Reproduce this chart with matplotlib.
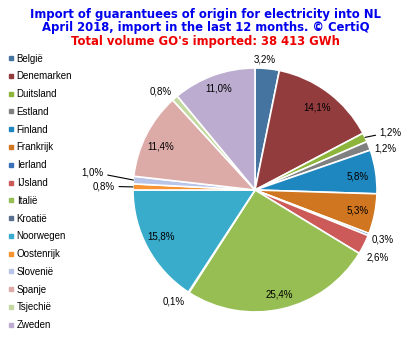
import numpy as np
import matplotlib
matplotlib.use('Agg')
import matplotlib.pyplot as plt
from matplotlib.lines import Line2D

# Aandeel per land in de geïmporteerde GO's (%)
landen = ['België', 'Denemarken', 'Duitsland', 'Estland', 'Finland', 'Frankrijk',
          'Ierland', 'IJsland', 'Italië', 'Kroatië', 'Noorwegen', 'Oostenrijk',
          'Slovenië', 'Spanje', 'Tsjechië', 'Zweden']
aandeel = [3.2, 14.1, 1.2, 1.2, 5.8, 5.3, 0.3, 2.6, 25.4, 0.1, 15.8, 0.8,
           1.0, 11.4, 0.8, 11.0]
kleuren = ['#4674A0', '#933C3E', '#8DB53B', '#808080', '#1F87BF', '#D17620',
           '#3A70B8', '#CC5A58', '#96BE52', '#5B6F8F', '#39ABCB', '#F79331',
           '#B8C4E8', '#DDABA7', '#C4D9A1', '#BCADD0']

# afstand van het label tot het midden en kleine hoekcorrectie
label_r = [1.07, 0.85, 1.21, 1.12, 0.85, 0.86, 1.12, 1.15, 0.88, 1.13, 0.86,
           1.24, 1.34, 0.85, 1.12, 0.88]
label_dh = [1.4, 0, -2.5, -3.7, -1.4, 0, 0, -2, 0, -3, -2.4, 0, -1.6, 2.4, 2.8, 0]
met_lijn = {'Duitsland', 'Oostenrijk', 'Slovenië'}

plt.rcParams['font.family'] = ['Liberation Sans', 'DejaVu Sans']

fig = plt.figure(figsize=(4.11, 3.40), dpi=100)
ax = fig.add_axes([0.3236, 0.0824, 0.5937, 0.7176])

wedges, _ = ax.pie(aandeel, colors=kleuren, startangle=90, counterclock=False,
                   wedgeprops=dict(edgecolor='white', linewidth=1.2))
ax.set_xlim(-1, 1)
ax.set_ylim(-1, 1)
ax.set_aspect('equal')
ax.axis('off')

for i, w in enumerate(wedges):
    mid = (w.theta1 + w.theta2) / 2
    hoek = np.deg2rad(mid + label_dh[i])
    tx, ty = label_r[i] * np.cos(hoek), label_r[i] * np.sin(hoek)
    tekst = f'{aandeel[i]:.1f}%'.replace('.', ',')
    if landen[i] in met_lijn:
        ex, ey = np.cos(np.deg2rad(mid)), np.sin(np.deg2rad(mid))
        ax.annotate(tekst, xy=(ex, ey), xytext=(tx, ty), ha='center', va='center',
                    fontsize=7, arrowprops=dict(arrowstyle='-', lw=0.8, color='black',
                                                shrinkA=1, shrinkB=0))
    else:
        ax.text(tx, ty, tekst, ha='center', va='center', fontsize=7)

titel = dict(ha='center', va='center', fontsize=8.4, fontweight='bold',
             family='DejaVu Sans')
fig.text(0.5, 0.958, 'Import of guarantuees of origin for electricity into NL',
         color='#0000EE', **titel)
fig.text(0.5, 0.918, 'April 2018, import in the last 12 months. © CertiQ',
         color='#0000EE', **titel)
fig.text(0.5, 0.879, 'Total volume GO\'s imported: 38 413 GWh',
         color='#EE0000', **titel)

handles = [Line2D([], [], marker='s', linestyle='none', markersize=3.5,
                  markerfacecolor=c, markeredgecolor=c) for c in kleuren]
fig.legend(handles, landen, loc='upper left', bbox_to_anchor=(0.01, 0.854),
           frameon=False, fontsize=7, handlelength=0.6, handletextpad=0.3,
           labelspacing=0.80, borderaxespad=0)

fig.savefig('out.png', dpi=100)
